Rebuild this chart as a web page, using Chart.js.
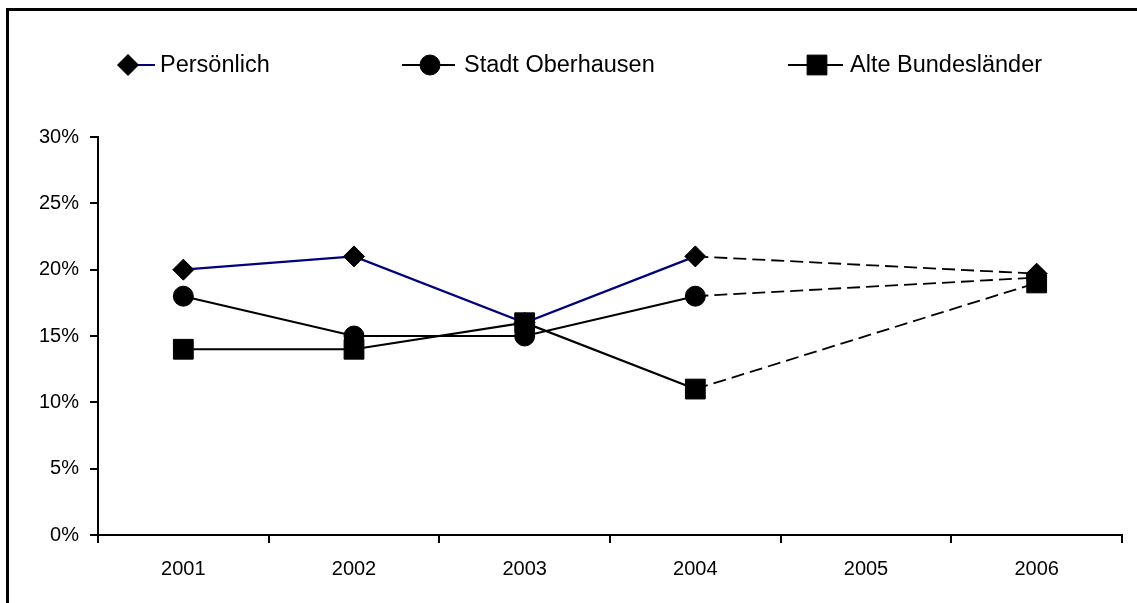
<!DOCTYPE html>
<html>
<head>
<meta charset="utf-8">
<script src="https://cdn.jsdelivr.net/npm/chart.js@4.4.0/dist/chart.umd.min.js"></script>
<style>
  html, body { margin: 0; padding: 0; background: #fff; }
  #wrap { width: 1137px; height: 603px; position: relative; }
</style>
</head>
<body>
<div id="wrap"><canvas id="c"></canvas></div>
<script>
const categories = ['2001', '2002', '2003', '2004', '2005', '2006'];
const persoenlich = [20, 21, 16, 21, null, 19.7];
const stadtOberhausen = [18, 15, 15, 18, null, 19.4];
const alteBundeslaender = [14, 14, 16, 11, null, 19];
const yTicks = [0, 5, 10, 15, 20, 25, 30];
const seriesNames = ['Persönlich', 'Stadt Oberhausen', 'Alte Bundesländer'];

const FONT = 'Arial, "Liberation Sans", sans-serif';

function gapSeg(ctx) { return ctx.p0.skip || ctx.p1.skip; }

const framePlugin = {
  id: 'frame',
  beforeDraw(chart) {
    const c = chart.ctx;
    c.save();
    c.fillStyle = '#fff';
    c.fillRect(0, 0, chart.width, chart.height);
    c.fillStyle = '#000';
    c.fillRect(6, 8, 3, chart.height);
    c.fillRect(6, 8, chart.width, 3);
    c.restore();
  }
};

const legendPlugin = {
  id: 'customLegend',
  afterDraw(chart) {
    const c = chart.ctx;
    const items = [
      { ds: 0, lineFrom: 128, lineTo: 155, mx: 128, tx: 160 },
      { ds: 1, lineFrom: 402, lineTo: 455, mx: 430, tx: 464 },
      { ds: 2, lineFrom: 788, lineTo: 843, mx: 817, tx: 850 }
    ];
    const y = 65;
    c.save();
    items.forEach(it => {
      const ds = chart.data.datasets[it.ds];
      c.strokeStyle = ds.borderColor;
      c.lineWidth = 2;
      c.setLineDash([]);
      c.beginPath();
      c.moveTo(it.lineFrom, y);
      c.lineTo(it.lineTo, y);
      c.stroke();
      c.fillStyle = '#000';
      c.strokeStyle = '#000';
      c.lineWidth = 1;
      Chart.helpers.drawPoint(c, {
        pointStyle: ds.pointStyle,
        radius: ds.pointRadius,
        borderWidth: 1
      }, it.mx, y);
      c.font = '23.5px ' + FONT;
      c.fillStyle = '#000';
      c.textBaseline = 'middle';
      c.textAlign = 'left';
      c.fillText(seriesNames[it.ds], it.tx, y + 1);
    });
    c.restore();
  }
};

const commonDs = {
  borderWidth: 2.2,
  pointBackgroundColor: '#000',
  pointBorderColor: '#000',
  pointBorderWidth: 1,
  spanGaps: true,
  tension: 0,
  segment: {
    borderDash: ctx => gapSeg(ctx) ? [13, 6] : undefined,
    borderColor: ctx => gapSeg(ctx) ? '#000' : undefined,
    borderWidth: ctx => gapSeg(ctx) ? 1.8 : undefined
  }
};

new Chart(document.getElementById('c'), {
  type: 'line',
  data: {
    labels: categories,
    datasets: [
      Object.assign({}, commonDs, {
        label: seriesNames[0], data: persoenlich,
        borderColor: '#000080', pointStyle: 'rectRot', pointRadius: 10.5, pointHoverRadius: 10.5, order: 3
      }),
      Object.assign({}, commonDs, {
        label: seriesNames[1], data: stadtOberhausen,
        borderColor: '#000000', pointStyle: 'circle', pointRadius: 10, pointHoverRadius: 10, order: 2
      }),
      Object.assign({}, commonDs, {
        label: seriesNames[2], data: alteBundeslaender,
        borderColor: '#000000', pointStyle: 'rect', pointRadius: 14, pointHoverRadius: 14, order: 1
      })
    ]
  },
  options: {
    responsive: true,
    maintainAspectRatio: false,
    animation: false,
    events: [],
    layout: { padding: { left: 0, right: 5, top: 137, bottom: 0 } },
    plugins: { legend: { display: false }, tooltip: { enabled: false } },
    scales: {
      x: {
        offset: true,
        grid: { display: true, offset: true, drawOnChartArea: false, color: '#000', lineWidth: 2, tickLength: 8 },
        border: { display: true, color: '#000', width: 2 },
        ticks: { color: '#000', font: { family: FONT, size: 20 }, padding: 14, maxRotation: 0 },
        afterFit(scale) { scale.height = 68; }
      },
      y: {
        min: 0, max: 30,
        afterBuildTicks(scale) { scale.ticks = yTicks.map(v => ({ value: v })); },
        grid: { display: true, drawOnChartArea: false, color: '#000', lineWidth: 2, tickLength: 8 },
        border: { display: true, color: '#000', width: 2 },
        ticks: { color: '#000', font: { family: FONT, size: 20 }, padding: 11, callback: v => v + '%' },
        afterFit(scale) { scale.width = 98; }
      }
    }
  },
  plugins: [framePlugin, legendPlugin]
});
</script>
</body>
</html>
